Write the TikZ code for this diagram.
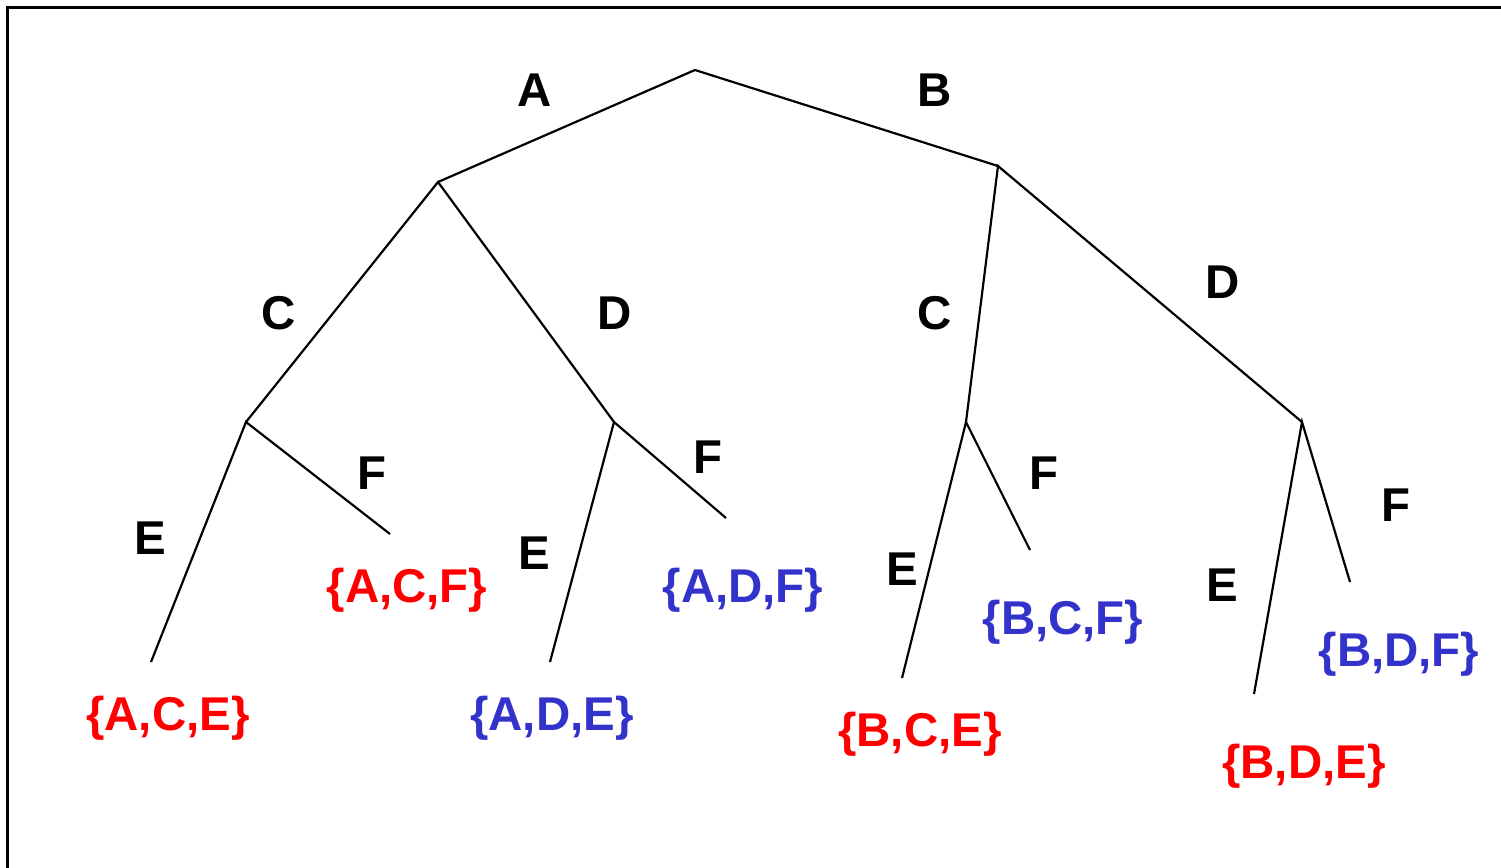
\documentclass[tikz,border=0pt]{standalone}
\usepackage{fontspec}
\setmainfont{Liberation Sans}
\definecolor{setred}{RGB}{255,0,0}
\definecolor{setblue}{RGB}{51,51,204}

\begin{document}
\begin{tikzpicture}[
        x=0.02cm, y=-0.02cm,
        % Edge style
        edge/.style={line width=1.25pt},
        % Letter labels on the branches
        lbl/.style={font=\fontsize{27}{30}\selectfont\bfseries, inner sep=0pt},
        % Sets at the leaves
        redset/.style={font=\fontsize{27}{30}\selectfont\bfseries, text=setred, inner sep=0pt},
        blueset/.style={font=\fontsize{27}{30}\selectfont\bfseries, text=setblue, inner sep=0pt}
    ]
    \useasboundingbox (0,0) rectangle (1501,867);

    %% ---- Frame ----
    \draw[line width=1.7pt] (7.5,880) -- (7.5,7.5) -- (1520,7.5);

    %% ---- Branch points ----
    \coordinate (root) at (695,70);
    \coordinate (a) at (438,182);
    \coordinate (b) at (998,166);
    \coordinate (ac) at (246,422);
    \coordinate (ad) at (614,422);
    \coordinate (bc) at (966,422);
    \coordinate (bd) at (1302,422);

    %% ---- Leaf ends ----
    \coordinate (ace) at (151,662);
    \coordinate (acf) at (390,534);
    \coordinate (ade) at (550,662);
    \coordinate (adf) at (726,518);
    \coordinate (bce) at (902,678);
    \coordinate (bcf) at (1030,550);
    \coordinate (bde) at (1254,694);
    \coordinate (bdf) at (1350,582);

    %% ---- Edges ----
    \draw[edge] (a) -- (root) -- (b);
    \draw[edge] (ac) -- (a) -- (ad);
    \draw[edge] (bc) -- (b) -- (bd);
    \draw[edge] (ace) -- (ac) -- (acf);
    \draw[edge] (ade) -- (ad) -- (adf);
    \draw[edge] (bce) -- (bc) -- (bcf);
    \draw[edge] (bde) -- (bd) -- (bdf);

    %% ---- Branch letters ----
    \node[lbl] (lA)  at (535,90)  {A};
    \node[lbl] (lB)  at (935,90)  {B};
    \node[lbl] (lAC) at (279,313) {C};
    \node[lbl] (lAD) at (615,313) {D};
    \node[lbl] (lBC) at (935,313) {C};
    \node[lbl] (lBD) at (1223,282) {D};
    \node[lbl] (lACE) at (150,538) {E};
    \node[lbl] (lACF) at (372,473) {F};
    \node[lbl] (lADE) at (534,553) {E};
    \node[lbl] (lADF) at (708,457) {F};
    \node[lbl] (lBCE) at (902,569) {E};
    \node[lbl] (lBCF) at (1044,473) {F};
    \node[lbl] (lBDE) at (1222,585) {E};
    \node[lbl] (lBDF) at (1396,505) {F};

    %% ---- Resulting sets ----
    \node[redset]  (sACE) at (168,718)  {\{A,C,E\}};
    \node[redset]  (sACF) at (407,590)  {\{A,C,F\}};
    \node[blueset] (sADE) at (552,718)  {\{A,D,E\}};
    \node[blueset] (sADF) at (743,590)  {\{A,D,F\}};
    \node[redset]  (sBCE) at (920,734)  {\{B,C,E\}};
    \node[blueset] (sBCF) at (1063,622) {\{B,C,F\}};
    \node[redset]  (sBDE) at (1304,766) {\{B,D,E\}};
    \node[blueset] (sBDF) at (1399,654) {\{B,D,F\}};

\end{tikzpicture}
\end{document}
